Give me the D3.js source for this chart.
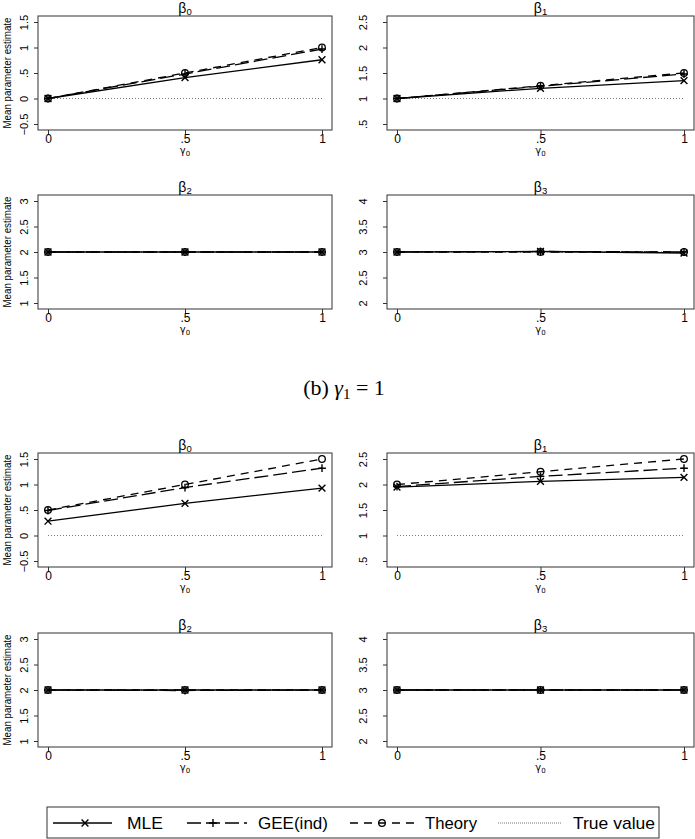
<!DOCTYPE html>
<html>
<head>
<meta charset="utf-8">
<script src="https://cdn.jsdelivr.net/npm/d3@7"></script>
<style>
  body { margin: 0; background: #fff; }
  svg { display: block; }
  text { font-family: "Liberation Sans", Arial, sans-serif; fill: #000; }
  .narrow { font-family: "Liberation Sans Narrow", "Liberation Sans", Arial, sans-serif; }
</style>
</head>
<body>
<div id="chart"></div>
<script>
// x values (gamma_0)
var gamma0 = [0, 0.5, 1];
var betaIndex = ["0", "1", "2", "3"];
var trueValue = [0, 1, 2, 3];
var yTicks = [
  [-0.5, 0, 0.5, 1, 1.5],
  [0.5, 1, 1.5, 2, 2.5],
  [1, 1.5, 2, 2.5, 3],
  [2, 2.5, 3, 3.5, 4]
];

// upper block
var mleA    = [[0, 0.41, 0.76], [1, 1.20, 1.35], [2, 2, 2], [3, 3.01, 2.98]];
var geeA    = [[0, 0.48, 0.97], [1, 1.24, 1.48], [2, 2, 2], [3, 3.01, 3.00]];
var theoryA = [[0, 0.50, 1.00], [1, 1.25, 1.50], [2, 2, 2], [3, 3.00, 3.00]];

// lower block, (b) gamma_1 = 1
var mleB    = [[0.28, 0.63, 0.93], [1.95, 2.06, 2.14], [2, 2, 2], [3, 3, 3]];
var geeB    = [[0.49, 0.94, 1.32], [1.96, 2.16, 2.32], [2, 1.99, 2], [3, 3, 3]];
var theoryB = [[0.50, 1.00, 1.50], [2.00, 2.25, 2.50], [2, 2, 2], [3, 3, 3]];

var legendLabels = ["MLE", "GEE(ind)", "Theory", "True value"];

var W = 695, H = 839;
var svg = d3.select("#chart").append("svg").attr("width", W).attr("height", H);

var rowTops = [16, 195, 453, 633];
var frameH = 114;
var cols = [{l: 38, r: 332, lab: 14}, {l: 387, r: 694, lab: 24}];

var styles = {
  mle:    {dash: null,  marker: "x"},
  gee:    {dash: "14,5", marker: "+"},
  theory: {dash: "8,6", marker: "o"}
};

function fmt(d){
  var s = d3.format("")(d);
  return s.replace(/^0\./, ".").replace(/^-0\./, "-.");
}

function marker(g, type, x, y){
  var s = 3.4;
  if(type == "x"){
    g.append("path").attr("d", "M" + (x-s) + "," + (y-s) + "L" + (x+s) + "," + (y+s) + "M" + (x-s) + "," + (y+s) + "L" + (x+s) + "," + (y-s))
      .attr("stroke", "#000").attr("stroke-width", 1.4).attr("fill", "none");
  } else if(type == "+"){
    g.append("path").attr("d", "M" + (x-s-0.5) + "," + y + "L" + (x+s+0.5) + "," + y + "M" + x + "," + (y-s-0.5) + "L" + x + "," + (y+s+0.5))
      .attr("stroke", "#000").attr("stroke-width", 1.4).attr("fill", "none");
  } else {
    g.append("circle").attr("cx", x).attr("cy", y).attr("r", 3.3)
      .attr("stroke", "#000").attr("stroke-width", 1.3).attr("fill", "none");
  }
}

function drawPanel(top, col, k, mle, gee, theory){
  var g = svg.append("g");
  var bottom = top + frameH;
  var ticks = yTicks[k];

  var x = d3.scaleLinear().domain([0, 1]).range([col.l + 10, col.r - 10]);
  var y = d3.scaleLinear().domain([ticks[0], ticks[ticks.length - 1]]).range([bottom - 6, top + 6]);

  // y axis
  var ya = g.append("g").attr("transform", "translate(" + col.l + ",0)")
    .call(d3.axisLeft(y).tickValues(ticks).tickFormat(fmt).tickSize(4).tickSizeOuter(0));
  ya.select(".domain").remove();
  ya.selectAll(".tick line").attr("stroke", "#333");
  ya.selectAll(".tick text")
    .attr("transform", "rotate(-90)")
    .attr("x", 0).attr("dy", null)
    .attr("y", -(col.lab - 4))
    .attr("text-anchor", "middle")
    .style("font-size", "11px")
    .style("font-family", "'Liberation Sans', Arial, sans-serif");

  // x axis
  var xa = g.append("g").attr("transform", "translate(0," + bottom + ")")
    .call(d3.axisBottom(x).tickValues(gamma0).tickFormat(fmt).tickSize(4).tickSizeOuter(0));
  xa.select(".domain").remove();
  xa.selectAll(".tick line").attr("stroke", "#333");
  xa.selectAll(".tick text").attr("y", 12.5).attr("dy", null)
    .style("font-size", "12px")
    .style("font-family", "'Liberation Sans', Arial, sans-serif");

  // frame
  g.append("rect").attr("x", col.l).attr("y", top).attr("width", col.r - col.l).attr("height", frameH)
    .attr("fill", "none").attr("stroke", "#333").attr("stroke-width", 1);

  // true value
  g.append("line")
    .attr("x1", x(gamma0[0])).attr("x2", x(gamma0[2]))
    .attr("y1", y(trueValue[k])).attr("y2", y(trueValue[k]))
    .attr("stroke", "#777").attr("stroke-width", 1).attr("stroke-dasharray", "1,2");

  var line = d3.line().x(function(d, i){ return x(gamma0[i]); }).y(function(d){ return y(d); });
  var series = [["mle", mle[k]], ["gee", gee[k]], ["theory", theory[k]]];
  series.forEach(function(s){
    var st = styles[s[0]];
    g.append("path").datum(s[1]).attr("d", line)
      .attr("fill", "none").attr("stroke", "#000").attr("stroke-width", 1.3)
      .attr("stroke-dasharray", st.dash);
    s[1].forEach(function(v, i){ marker(g, st.marker, x(gamma0[i]), y(v)); });
  });

  // title
  var cx = (col.l + col.r) / 2;
  var t = g.append("text").attr("x", cx).attr("y", top - 3).attr("text-anchor", "middle")
    .style("font-size", "14px").style("font-family", "'Liberation Sans', Arial, sans-serif");
  t.append("tspan").text("β");
  t.append("tspan").text(betaIndex[k]).attr("dy", 1.5).style("font-size", "9.5px");

  // x title
  var xt = g.append("text").attr("x", cx).attr("y", bottom + 24).attr("text-anchor", "middle")
    .style("font-size", "10px").style("font-family", "'DejaVu Sans', sans-serif");
  xt.append("tspan").text("γ");
  xt.append("tspan").text("0").attr("dy", 1.5).style("font-size", "7px");

  // y title on left column
  if(col.l < 100){
    g.append("text").attr("class", "narrow")
      .attr("transform", "translate(11," + (top + frameH / 2) + ") rotate(-90)")
      .attr("text-anchor", "middle")
      .attr("textLength", 111).attr("lengthAdjust", "spacingAndGlyphs")
      .style("font-size", "11px")
      .text("Mean parameter estimate");
  }
}

for(var k = 0; k < 4; k++){
  var r = Math.floor(k / 2), c = k % 2;
  drawPanel(rowTops[r], cols[c], k, mleA, geeA, theoryA);
  drawPanel(rowTops[r + 2], cols[c], k, mleB, geeB, theoryB);
}

// sub-caption
var cap = svg.append("text").attr("x", 344).attr("y", 395).attr("text-anchor", "middle")
  .style("font-family", "'Liberation Serif', 'DejaVu Serif', serif").style("font-size", "22px");
cap.append("tspan").text("(b) ");
cap.append("tspan").text("γ").style("font-style", "italic");
cap.append("tspan").text("1").attr("dy", 4).style("font-size", "15px");
cap.append("tspan").text(" = 1").attr("dy", -4);

// legend
var lg = svg.append("g");
lg.append("rect").attr("x", 47).attr("y", 807).attr("width", 612).attr("height", 31)
  .attr("fill", "none").attr("stroke", "#333").attr("stroke-width", 1);
var ly = 823;
var keys = [
  {x1: 53, x2: 112, m: 85, st: styles.mle, tx: 127, tw: 36},
  {x1: 187, x2: 247, m: 213, st: styles.gee, tx: 258, tw: 70},
  {x1: 350, x2: 417, m: 382, st: styles.theory, tx: 425, tw: 52},
  {x1: 498, x2: 562, m: null, st: null, tx: 573, tw: 82}
];
keys.forEach(function(kk, i){
  if(kk.st){
    lg.append("line").attr("x1", kk.x1).attr("x2", kk.x2).attr("y1", ly).attr("y2", ly)
      .attr("stroke", "#000").attr("stroke-width", 1.3).attr("stroke-dasharray", kk.st.dash);
    marker(lg, kk.st.marker, kk.m, ly);
  } else {
    lg.append("line").attr("x1", kk.x1).attr("x2", kk.x2).attr("y1", ly).attr("y2", ly)
      .attr("stroke", "#777").attr("stroke-width", 1).attr("stroke-dasharray", "1,1");
  }
  lg.append("text").attr("class", "narrow").attr("x", kk.tx).attr("y", ly + 6)
    .attr("textLength", kk.tw).attr("lengthAdjust", "spacingAndGlyphs")
    .style("font-size", "17px").text(legendLabels[i]);
});
</script>
</body>
</html>
